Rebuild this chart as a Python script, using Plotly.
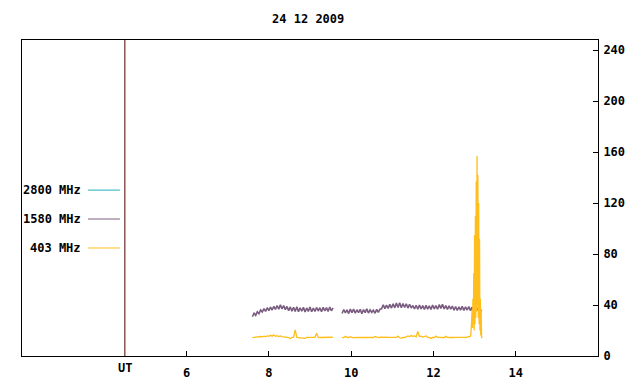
import numpy as np
import plotly.graph_objects as go

# ---------------- data (hours UT, flux units) ----------------
title_text = "24 12 2009"
series_names = ["2800 MHz", "1580 MHz", "403 MHz"]
series_colors = ["#20b0c0", "#7a5c80", "#ffbe1c"]

step = 0.04
# 1580 MHz, first segment starts 7.60 h
t1580_a_start = 7.60
v1580_a = [30.8, 33.6, 31.9, 34.8, 33.2, 36.1, 34.5, 37.2, 35.0, 37.9,
           35.6, 38.4, 36.1, 39.0, 36.5, 39.6, 36.8, 40.1, 37.0, 39.5,
           36.4, 38.9, 35.6, 38.5, 35.2, 38.3, 35.0, 38.6, 34.8, 37.9,
           35.1, 38.2, 34.5, 37.7, 35.0, 38.5, 34.7, 37.6, 35.0, 38.1,
           35.3, 37.9, 34.8, 38.2, 35.4, 38.0, 34.9, 38.4, 35.5, 37.8]
# 1580 MHz, second segment starts 9.78 h
t1580_b_start = 9.78
v1580_b = [33.4, 36.5, 33.9, 36.2, 33.3, 36.8, 34.0, 36.9, 33.6, 36.3,
           34.1, 36.7, 33.2, 36.4, 34.0, 37.0, 33.7, 36.2, 34.3, 35.9,
           33.5, 36.6, 34.2, 36.8,
           37.0, 40.2, 37.2, 39.9, 37.4, 40.5, 37.6,
           41.0, 37.8, 41.5, 38.0, 41.8, 37.9, 41.2, 38.1, 41.0, 37.6, 40.6, 37.7,
           39.6, 36.9, 39.8, 36.7, 39.9, 37.0, 39.5, 36.5, 39.7, 36.8,
           39.4, 36.6, 40.0, 37.0, 39.6, 36.7, 40.3, 37.4, 40.5, 37.0,
           39.5, 36.6, 39.4, 36.8, 39.2,
           35.9, 38.8, 35.7, 38.6, 36.0, 38.9, 35.8, 38.5, 36.1, 38.8,
           35.6, 38.4, 35.9, 38.7, 35.8, 38.3, 36.2, 35.4]

# 403 MHz
t403_a_start = 7.60
v403_a = [14.4, 14.6, 14.9, 15.1, 14.8, 15.3, 15.0, 15.6, 15.2, 15.8,
          15.4, 16.2, 15.6, 16.6, 15.5, 16.0, 15.3, 15.7, 15.2, 14.9,
          14.7, 14.8, 14.5, 13.6, 14.6, 14.7, 20.5, 14.6, 14.5, 14.7,
          14.6, 14.4, 13.9, 14.6, 14.7, 14.5, 14.6, 14.5, 14.7, 17.8,
          14.6, 14.5, 14.6, 14.7, 14.5, 14.6, 14.6, 14.5, 14.7, 14.6]
t403_b_start = 9.78
v403_b = [14.5, 14.4, 15.4, 14.6, 14.5, 15.2, 14.4, 14.6, 14.5, 14.7,
          14.6, 14.5, 14.7, 14.6, 14.5, 14.6, 14.7, 14.5, 14.6, 14.5,
          15.3, 14.6, 14.5, 14.7, 14.6, 14.5, 14.6, 14.7, 14.5, 14.6,
          14.6, 14.5, 14.7, 14.6, 15.6, 14.3, 13.9, 14.6, 14.5, 15.4,
          15.8, 15.2, 16.0, 15.4, 15.7, 15.1, 19.2, 15.3, 15.6, 14.9,
          15.5, 15.8, 14.7, 14.6, 13.8, 14.6, 14.5, 15.6, 14.6, 14.5,
          14.7, 14.6, 14.5, 15.4, 14.6, 14.5, 14.7, 14.6, 14.5, 14.6,
          14.7, 14.5, 14.6, 14.7, 14.6, 14.5, 14.7, 15.1]
# 403 MHz burst, fine sampling
t403_c_start = 12.90
step_c = 0.01
v403_c = [15.5, 17.0, 20.0, 28.0, 36.0, 22.0, 45.0, 25.0, 65.0, 20.0,
          95.0, 25.0, 110.0, 30.0, 137.0, 35.0, 157.0, 40.0, 142.0, 30.0,
          120.0, 25.0, 92.0, 20.0, 45.0, 16.0, 37.0, 14.0, 15.5]

x_tick_vals = [6, 8, 10, 12, 14]
x_tick_text = ["6", "8", "10", "12", "14"]
ut_label = "UT"
y_tick_vals = [0, 40, 80, 120, 160, 200, 240]
x_range = [2, 16]
y_range = [0, 248]
ut_marker = 4.5


def times(start, st, n):
    return [round(start + st * i, 4) for i in range(n)]


t1580 = times(t1580_a_start, step, len(v1580_a)) + [None] + times(t1580_b_start, step, len(v1580_b))
v1580 = v1580_a + [None] + v1580_b
t403 = (times(t403_a_start, step, len(v403_a)) + [None]
        + times(t403_b_start, step, len(v403_b))
        + times(t403_c_start, step_c, len(v403_c)))
v403 = v403_a + [None] + v403_b + v403_c

FONT = "DejaVu Sans Mono"
TF = dict(family=FONT, size=12, color="black", weight="bold")

fig = go.Figure()
fig.add_trace(go.Scatter(x=t1580, y=v1580, mode="lines", name=series_names[1],
                         line=dict(color=series_colors[1], width=1.6), connectgaps=False))
fig.add_trace(go.Scatter(x=t403, y=v403, mode="lines", name=series_names[2],
                         line=dict(color=series_colors[2], width=1.3), connectgaps=False))

# UT marker line and its label
fig.add_shape(type="line", xref="x", yref="paper", x0=ut_marker, x1=ut_marker, y0=0, y1=1,
              line=dict(color="#500000", width=1))
fig.add_annotation(xref="x", yref="paper", x=ut_marker, y=0, yshift=-12, text=ut_label,
                   showarrow=False, xanchor="center", yanchor="middle", font=TF)

# gnuplot-style key on the left
key_y = [0.525, 0.4335, 0.3418]
for name, col, ky in zip(series_names, series_colors, key_y):
    fig.add_annotation(xref="paper", yref="paper", x=0.106, y=ky, text=name, showarrow=False,
                       xanchor="right", yanchor="middle", font=TF)
    fig.add_shape(type="line", xref="paper", yref="paper", x0=0.1146, x1=0.170, y0=ky, y1=ky,
                  line=dict(color=col, width=1))

fig.update_layout(
    width=640, height=384,
    margin=dict(l=14, r=50, t=32, b=36),
    paper_bgcolor="white", plot_bgcolor="white",
    showlegend=False,
    title=dict(text=title_text, x=0.469, xanchor="center", y=0.972, yanchor="middle", font=TF),
    font=TF,
)
fig.update_xaxes(range=x_range, tickvals=x_tick_vals, ticktext=x_tick_text,
                 showgrid=False, zeroline=False, showline=True, linecolor="black", linewidth=1,
                 mirror=True, ticks="inside", ticklen=5, tickcolor="black",
                 ticklabelstandoff=6, tickfont=TF)
fig.update_yaxes(range=y_range, tickvals=y_tick_vals, side="right",
                 showgrid=False, zeroline=False, showline=True, linecolor="black", linewidth=1,
                 mirror=True, ticks="inside", ticklen=5, tickcolor="black",
                 ticklabelstandoff=2, tickfont=TF)

fig.write_html("out.html")
